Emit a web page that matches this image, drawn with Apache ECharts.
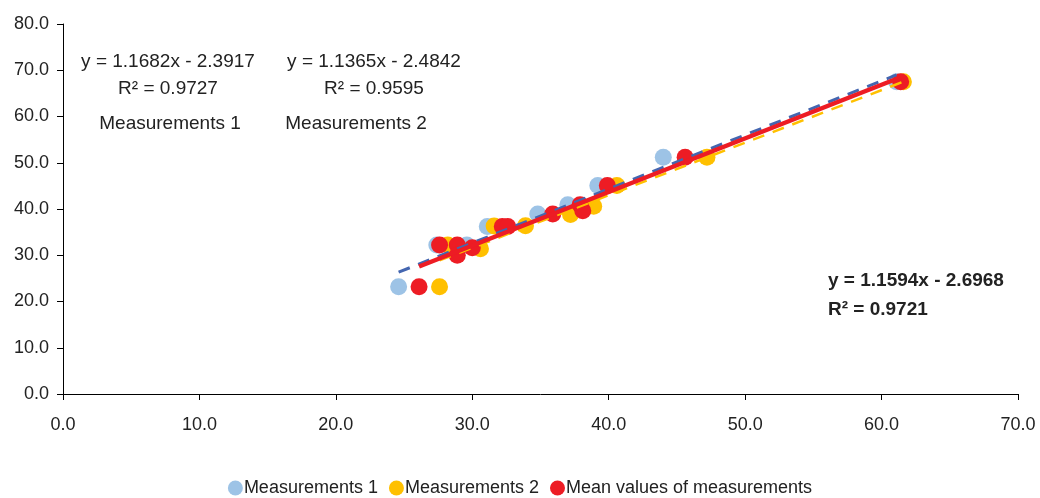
<!DOCTYPE html>
<html>
<head>
<meta charset="utf-8">
<script src="https://cdn.jsdelivr.net/npm/echarts@6/dist/echarts.min.js"></script>
<style>
  html, body { margin: 0; padding: 0; background: #fff; }
  #chart { width: 1040px; height: 498px; }
</style>
</head>
<body>
<div id="chart"></div>
<script>
// values
var meas1 = [[24.6, 23.2], [27.4, 32.2], [29.6, 32.2], [31.1, 36.2], [34.8, 38.9],
             [37.0, 40.9], [39.2, 45.1], [44.0, 51.2], [61.1, 67.5]];
var meas2 = [[27.6, 23.2], [28.2, 32.2], [30.6, 31.4], [31.6, 36.3], [33.9, 36.4],
             [37.2, 38.8], [38.9, 40.6], [40.6, 45.1], [47.2, 51.2], [61.6, 67.5]];
var meanVals = [[26.1, 23.2], [27.6, 32.2], [28.9, 32.2], [28.9, 30.0], [30.0, 31.6],
                [32.2, 36.2], [32.6, 36.2], [35.9, 38.9], [37.9, 40.9], [38.1, 39.6],
                [39.9, 45.1], [45.6, 51.2], [61.4, 67.5]];

// trendline coefficients [slope, intercept, r2] as printed on the chart
var fit1 = [1.1682, -2.3917, 0.9727];
var fit2 = [1.1365, -2.4842, 0.9595];
var fitMean = [1.1594, -2.6968, 0.9721];

var names = ['Measurements 1', 'Measurements 2', 'Mean values of measurements'];
var colors = ['#9DC3E6', '#FFC000', '#ED1C24'];

function trend(pts, fit) {
    var xs = pts.map(function (p) { return p[0]; });
    var lo = Math.min.apply(null, xs), hi = Math.max.apply(null, xs);
    return [[lo, fit[0] * lo + fit[1]], [hi, fit[0] * hi + fit[1]]];
}

function eq(fit) {
    return 'y = ' + fit[0].toFixed(4) + 'x - ' + Math.abs(fit[1]).toFixed(4);
}

var font = 'Liberation Sans, Arial, sans-serif';

function label(x, y, text, bold, align) {
    return {
        type: 'text', x: x, y: y, silent: true,
        style: {
            text: text, fill: '#222',
            font: (bold ? 'bold ' : '') + '19px ' + font,
            textAlign: align || 'center', textVerticalAlign: 'middle'
        }
    };
}

var chart = echarts.init(document.getElementById('chart'));
chart.setOption({
    animation: false,
    textStyle: { fontFamily: font },
    grid: { left: 63, right: 22, top: 24, bottom: 104 },
    legend: {
        top: 474,
        left: 'center',
        data: names,
        icon: 'circle',
        itemWidth: 15,
        itemHeight: 15,
        itemGap: 11,
        textStyle: { fontSize: 18, color: '#222', fontFamily: font, padding: [0, 0, 0, -4] }
    },
    xAxis: {
        type: 'value', min: 0, max: 70, interval: 10,
        splitLine: { show: false },
        axisLine: { onZero: false, lineStyle: { color: '#000', width: 1 } },
        axisTick: { show: true, length: 6, lineStyle: { color: '#000' } },
        axisLabel: { fontSize: 18, color: '#222', margin: 22,
            formatter: function (v) { return v.toFixed(1); } }
    },
    yAxis: {
        type: 'value', min: 0, max: 80, interval: 10,
        splitLine: { show: false },
        axisLine: { show: true, onZero: false, lineStyle: { color: '#000', width: 1 } },
        axisTick: { show: true, length: 6, lineStyle: { color: '#000' } },
        axisLabel: { fontSize: 18, color: '#222', margin: 14,
            formatter: function (v) { return v.toFixed(1); } }
    },
    graphic: [
        label(168, 62, eq(fit1)),
        label(168, 89, 'R² = ' + fit1[2].toFixed(4)),
        label(170, 124, names[0]),
        label(374, 62, eq(fit2)),
        label(374, 89, 'R² = ' + fit2[2].toFixed(4)),
        label(356, 124, names[1]),
        label(828, 281, eq(fitMean), true, 'left'),
        label(828, 310, 'R² = ' + fitMean[2].toFixed(4), true, 'left')
    ],
    series: [
        { name: names[0], type: 'scatter', data: meas1, symbolSize: 17,
          itemStyle: { color: colors[0], opacity: 1 }, z: 2 },
        { name: names[1], type: 'scatter', data: meas2, symbolSize: 17,
          itemStyle: { color: colors[1], opacity: 1 }, z: 3 },
        { name: names[2], type: 'scatter', data: meanVals, symbolSize: 17,
          itemStyle: { color: colors[2], opacity: 1 }, z: 4 },
        { type: 'line', data: trend(meas2, fit2), symbol: 'none', silent: true, z: 5,
          lineStyle: { color: '#FFC000', width: 2.5, type: [12, 9] } },
        { type: 'line', data: trend(meas1, fit1), symbol: 'none', silent: true, z: 6,
          lineStyle: { color: '#4466B0', width: 3, type: [12, 9] } },
        { type: 'line', data: trend(meanVals, fitMean), symbol: 'none', silent: true, z: 7,
          lineStyle: { color: '#ED1C24', width: 4.5 } }
    ]
});
</script>
</body>
</html>
